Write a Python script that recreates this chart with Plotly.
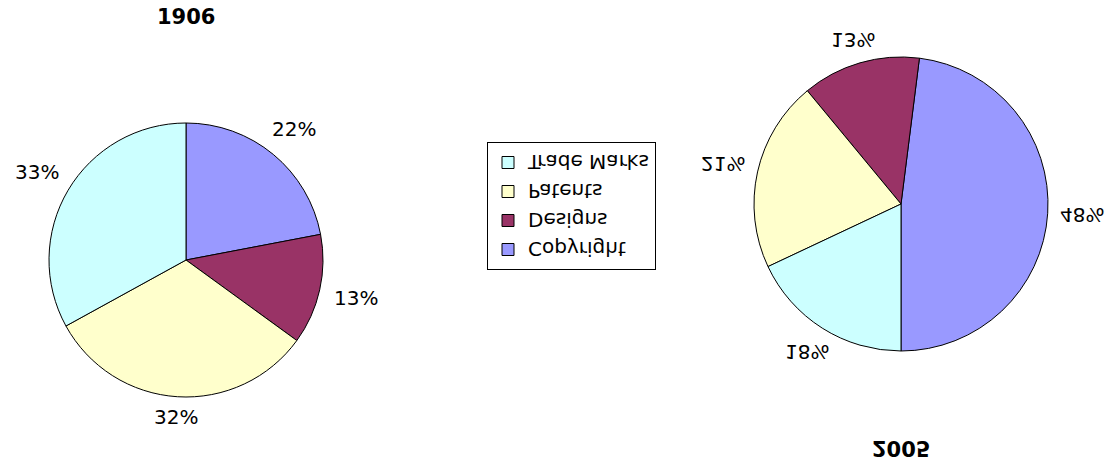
import math
import json
import plotly.graph_objects as go

# ---- data ----
categories = ["Copyright", "Designs", "Patents", "Trade Marks"]
values_1906 = [22, 13, 32, 33]
values_2005 = [48, 13, 21, 18]
colors = ["#9999FF", "#993366", "#FFFFCC", "#CCFFFF"]
titles = ["1906", "2005"]

# ---- layout geometry (pixels) ----
W, H = 1111, 461
FONT = "DejaVu Sans"
left = dict(cx=186, cy=260, r=137)
right = dict(cx=901, cy=204, r=147)


def domain(g):
    return dict(x=[(g["cx"] - g["r"]) / W, (g["cx"] + g["r"]) / W],
                y=[1 - (g["cy"] + g["r"]) / H, 1 - (g["cy"] - g["r"]) / H])


def label_annotations(vals, g, start_deg, sign, gap=12, hw=24, hh=7):
    total = sum(vals)
    cum = 0
    anns = []
    for v in vals:
        mid = (cum + v / 2) / total * 360
        cum += v
        a = math.radians(start_deg + sign * mid)
        dx, dy = math.sin(a), -math.cos(a)
        d = g["r"] + gap + abs(dx) * hw + abs(dy) * hh
        px, py = g["cx"] + dx * d, g["cy"] + dy * d
        anns.append(dict(x=px / W, y=1 - py / H, xref="paper", yref="paper",
                         text=f"{round(v / total * 100)}%", showarrow=False,
                         xanchor="center", yanchor="middle",
                         font=dict(family=FONT, size=20, color="black")))
    return anns


fig = go.Figure()
fig.add_trace(go.Pie(labels=categories, values=values_1906, sort=False,
                     direction="clockwise", rotation=0, textinfo="none",
                     marker=dict(colors=colors, line=dict(color="black", width=1)),
                     domain=domain(left), hoverinfo="skip"))
# 2005 pie is drawn mirrored top-to-bottom: first slice ends at 6 o'clock,
# slices run counter-clockwise from there
rot_2005 = 180 - 360 * values_2005[0] / sum(values_2005)
fig.add_trace(go.Pie(labels=categories, values=values_2005, sort=False,
                     direction="counterclockwise", rotation=rot_2005, textinfo="none",
                     marker=dict(colors=colors, line=dict(color="black", width=1)),
                     domain=domain(right), hoverinfo="skip", showlegend=False))

annotations = []
annotations += label_annotations(values_1906, left, 0, 1)
annotations.append(dict(x=186 / W, y=1 - 16.5 / H, xref="paper", yref="paper",
                        text=f"<b>{titles[0]}</b>", showarrow=False,
                        xanchor="center", yanchor="middle",
                        font=dict(family=FONT, size=21, color="black")))
flip_start = len(annotations)
annotations += label_annotations(values_2005, right, 180, -1, gap=10)
annotations.append(dict(x=901 / W, y=1 - 448 / H, xref="paper", yref="paper",
                        text=f"<b>{titles[1]}</b>", showarrow=False,
                        xanchor="center", yanchor="middle",
                        font=dict(family=FONT, size=21, color="black")))
flip_idx = list(range(flip_start, len(annotations)))

fig.update_layout(
    width=W, height=H,
    margin=dict(l=0, r=0, t=0, b=0),
    paper_bgcolor="white", plot_bgcolor="white",
    annotations=annotations,
    showlegend=True,
    legend=dict(x=487 / W, y=1 - 142 / H, xanchor="left", yanchor="top",
                bgcolor="white", bordercolor="black", borderwidth=1,
                font=dict(family=FONT, size=20, color="black"),
                traceorder="normal"),
)

post_js = """
document.body.style.margin = '0';
document.body.style.overflow = 'hidden';
var gd = document.getElementById('{plot_id}');
function flipY(el) {
  var b = el.getBBox();
  var cy = b.y + b.height / 2;
  var t = el.getAttribute('transform') || '';
  el.setAttribute('transform', t + ' translate(0,' + cy + ') scale(1,-1) translate(0,' + (-cy) + ')');
}
var idx = IDX;
gd.querySelectorAll('g.annotation').forEach(function (g) {
  if (idx.indexOf(parseInt(g.getAttribute('data-index'))) >= 0) { flipY(g); }
});
var lg = gd.querySelector('g.legend');
if (lg) { flipY(lg); }
""".replace("IDX", json.dumps(flip_idx))

fig.write_html("out.html", post_script=post_js,
               config={"displayModeBar": False, "staticPlot": True})
